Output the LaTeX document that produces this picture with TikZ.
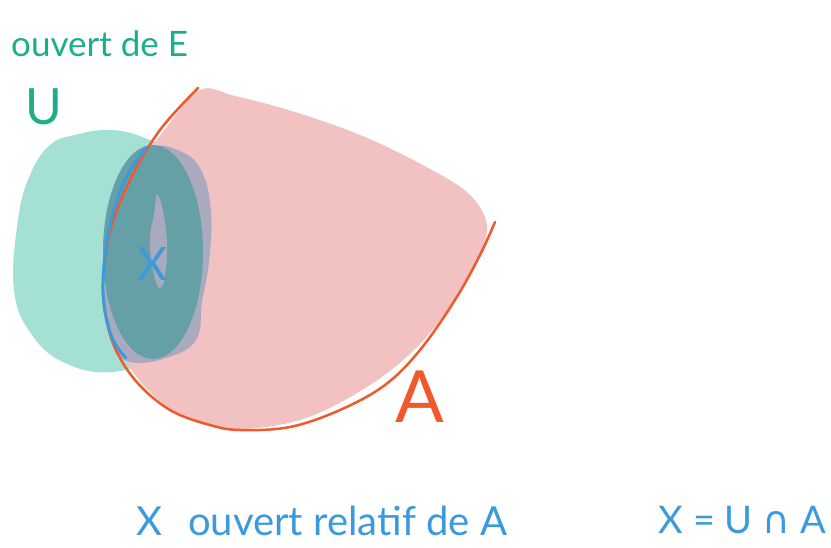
\documentclass[tikz,border=0pt]{standalone}
\usepackage{fontspec}
\setmainfont{Lato}
\newfontfamily\symbfont{DejaVu Sans}
\usetikzlibrary{positioning}
\definecolor{PenGreen}{HTML}{1AAF8B}
\definecolor{PenBlue}{HTML}{3A9ADC}
\definecolor{PenOrange}{HTML}{F05A2A}
\definecolor{FillU}{HTML}{A4E0D3}
\definecolor{FillA}{HTML}{F2C1C1}
\definecolor{FillX}{HTML}{64A0A6}
\definecolor{FillHalo}{HTML}{A9AABE}
\begin{document}
\begin{tikzpicture}[
  x=1pt, y=-1pt,
  pen/.style={line width=3pt, line cap=round, line join=round},
  hand/.style={inner sep=0pt, font=\fontsize{36}{40}\selectfont}
]
  \useasboundingbox (0,0) rectangle (831,548);
  %% blob U (open set of E)
  \fill[FillU] plot[smooth cycle, tension=0.7] coordinates {
    (75,135) (110,130) (145,138) (185,160) (203,205) (206,262) (196,320)
    (160,355) (112,372) (65,363) (32,335) (14,290) (18,220) (30,175) (50,145)};
  %% blob A
  \fill[FillA] plot[smooth cycle, tension=0.6] coordinates {
    (200,90) (235,96) (295,112) (365,137) (432,170) (470,195) (487,225)
    (478,258) (452,304) (416,348) (370,385) (306,418) (240,429) (190,420)
    (150,392) (122,352) (109,292) (113,232) (133,176) (166,128)};
  %% intersection X
  \fill[FillHalo] plot[smooth cycle, tension=0.7] coordinates {
    (150,148) (182,152) (202,172) (211,212) (209,262) (202,302) (196,340)
    (166,358) (130,362) (112,345) (105,300) (109,230) (124,180)};
  \fill[FillX] (153,252) ellipse [x radius=50, y radius=107];
  \fill[FillHalo] plot[smooth cycle, tension=0.8] coordinates {
    (158,195) (166,230) (166,268) (160,288) (153,270) (150,240) (154,215)};
  %% border of A
  \draw[pen, PenOrange, line width=2.5pt] plot[smooth, tension=0.6] coordinates {
    (198,88) (160,130) (130,180) (110,232) (103,290) (112,340) (135,380)
    (170,410) (210,425) (240,430) (290,427) (340,410) (385,385) (420,350)
    (455,300) (480,255) (495,222)};
  %% border of X
  \draw[pen, PenBlue] plot[smooth, tension=0.6] coordinates {
    (147,147) (125,180) (109,230) (103,290) (111,335) (126,358)};
  %% labels
  \node[hand, text=PenGreen, font=\fontsize{35}{40}\selectfont, anchor=west] (ouvertE) at (11,44) {ouvert de E};
  \node[hand, text=PenGreen, font=\fontsize{50}{54}\selectfont] (nomU) at (44,107) {U};
  \node[hand, text=PenBlue, font=\fontsize{46}{50}\selectfont] (nomX) at (152,264) {X};
  \node[hand, text=PenOrange, font=\fontsize{72}{76}\selectfont] (nomA) at (420,397) {A};
  \node[hand, text=PenBlue, font=\fontsize{40}{44}\selectfont, anchor=west] (defX) at (136,521) {X\hspace{26pt}ouvert relatif de A};
  \node[hand, text=PenBlue, font=\fontsize{38}{42}\selectfont, anchor=east] (egalX) at (826,520) {X = U {\symbfont ∩} A};
\end{tikzpicture}
\end{document}
